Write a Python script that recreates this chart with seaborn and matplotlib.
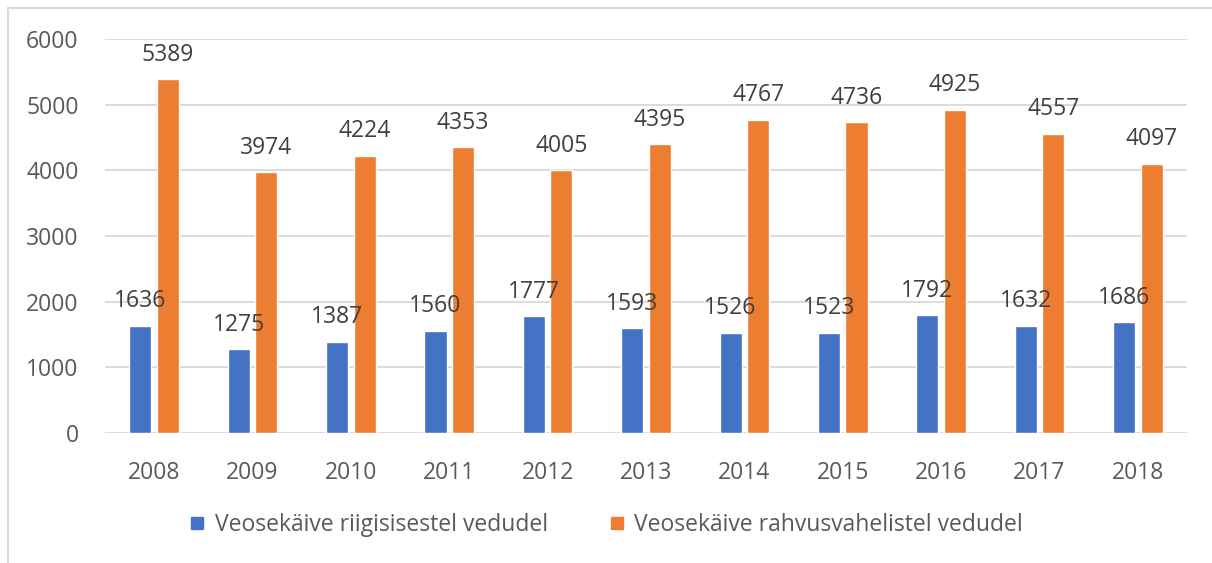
import matplotlib
matplotlib.use("Agg")
import matplotlib.pyplot as plt
import seaborn as sns
import pandas as pd
from matplotlib.lines import Line2D

years = ["2008", "2009", "2010", "2011", "2012", "2013", "2014", "2015", "2016", "2017", "2018"]
domestic = [1636, 1275, 1387, 1560, 1777, 1593, 1526, 1523, 1792, 1632, 1686]
international = [5389, 3974, 4224, 4353, 4005, 4395, 4767, 4736, 4925, 4557, 4097]
series_names = ["Veosekäive riigisisestel vedudel", "Veosekäive rahvusvahelistel vedudel"]
colors = ["#4472C4", "#ED7D31"]
yticks = [0, 1000, 2000, 3000, 4000, 5000, 6000]

df = pd.DataFrame({
    "year": years * 2,
    "value": domestic + international,
    "series": [series_names[0]] * len(years) + [series_names[1]] * len(years),
})

sns.set_theme(style="white")
plt.rcParams["font.family"] = ["Open Sans", "DejaVu Sans"]

fig = plt.figure(figsize=(12.12, 5.63), dpi=100)
ax = fig.add_axes([105 / 1212, 1 - 433 / 563, (1187 - 105) / 1212, (433 - 39) / 563])

sns.barplot(data=df, x="year", y="value", hue="series", palette=colors,
            width=0.56, gap=0.2, ax=ax, legend=False, saturation=1)

for cont in ax.containers:
    ax.bar_label(cont, labels=[f"{int(v)}" for v in cont.datavalues],
                 padding=9, fontsize=16.5, color="#404040")

ax.set_ylim(0, 6000)
ax.set_xlim(-0.5, len(years) - 0.5)
ax.set_yticks(yticks)
ax.set_yticklabels([str(t) for t in yticks])
ax.yaxis.grid(True, color="#D9D9D9", linewidth=1.3)
ax.set_axisbelow(True)
for s in ax.spines.values():
    s.set_visible(False)
ax.tick_params(axis="both", length=0, labelsize=16.5, labelcolor="#595959")
ax.tick_params(axis="y", pad=19)
ax.tick_params(axis="x", pad=20)
ax.set_xlabel("")
ax.set_ylabel("")

handles = [Line2D([0], [0], marker="s", linestyle="", markersize=8.5,
                  markerfacecolor=c, markeredgecolor=c) for c in colors]
fig.legend(handles, series_names, loc="center", bbox_to_anchor=(0.5, 1 - 525 / 563),
           ncol=2, frameon=False, fontsize=16.5, labelcolor="#595959",
           handletextpad=0.4, columnspacing=2.66, handlelength=0.7)

# chart border (top and left visible)
fig.add_artist(Line2D([8 / 1212, 1.01], [1 - 8 / 563, 1 - 8 / 563], transform=fig.transFigure,
                      color="#D9D9D9", linewidth=1.5))
fig.add_artist(Line2D([8 / 1212, 8 / 1212], [-0.01, 1 - 8 / 563], transform=fig.transFigure,
                      color="#D9D9D9", linewidth=1.5))

fig.savefig("out.png", dpi=100, facecolor="white")
